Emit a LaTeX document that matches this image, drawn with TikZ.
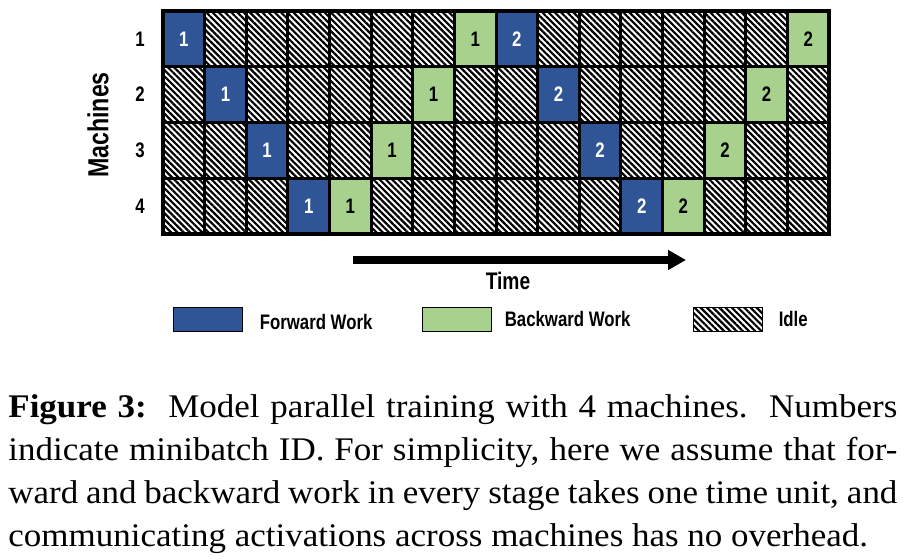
\documentclass[tikz,border=0pt]{standalone}
\usepackage{fontspec}
\setmainfont{Liberation Serif}
\newfontfamily\diagfont{Liberation Sans}[FakeStretch=0.8]
\newfontfamily\capfont{Liberation Serif}[FakeStretch=1.06]
\usepackage{tikz}
\usetikzlibrary{positioning,patterns.meta,arrows.meta}
\definecolor{fwdblue}{HTML}{2F5597}
\definecolor{bwdgreen}{HTML}{A9D18E}
\tikzset{forward style/.style={
		fill=fwdblue,
		text=white,
		rectangle,
		minimum width=20.8pt,
		minimum height=27.9pt,
		inner sep=0pt,
		font=\diagfont\bfseries\fontsize{10.5}{12}\selectfont,
	},
	backward style/.style={
		forward style,
		fill=bwdgreen,
		text=black,
	},
	idle style/.style={
		pattern={Lines[angle=-45,distance=2.2pt,line width=1.1pt]},
	},
	key style/.style={
		draw=black,
		thin,
		rectangle,
		minimum width=34.5pt,
		minimum height=12pt,
		inner sep=0pt,
	},
	label style/.style={
		text=black,
		inner sep=0pt,
		font=\diagfont\bfseries\fontsize{#1}{#1}\selectfont,
	}
}

\begin{document}
\begin{tikzpicture}[x=0.5pt,y=-0.5pt]
	\fill[white] (0,0) rectangle (907,559);

	\begin{scope}[shift={(163,11)},x=20.8125pt,y=-27.875pt]
		\fill[white] (0,0) rectangle (16,4);
		\fill[idle style] (0,0) rectangle (16,4);

		\node[forward style] (f11) at (0.5,0.5) {1};
		\node[backward style] (b11) at (7.5,0.5) {1};
		\node[forward style] (f12) at (8.5,0.5) {2};
		\node[backward style] (b12) at (15.5,0.5) {2};

		\node[forward style] (f21) at (1.5,1.5) {1};
		\node[backward style] (b21) at (6.5,1.5) {1};
		\node[forward style] (f22) at (9.5,1.5) {2};
		\node[backward style] (b22) at (14.5,1.5) {2};

		\node[forward style] (f31) at (2.5,2.5) {1};
		\node[backward style] (b31) at (5.5,2.5) {1};
		\node[forward style] (f32) at (10.5,2.5) {2};
		\node[backward style] (b32) at (13.5,2.5) {2};

		\node[forward style] (f41) at (3.5,3.5) {1};
		\node[backward style] (b41) at (4.5,3.5) {1};
		\node[forward style] (f42) at (11.5,3.5) {2};
		\node[backward style] (b42) at (12.5,3.5) {2};

		\draw[line width=1.5pt,xstep=20.8125pt,ystep=27.875pt] (0,0) grid (16,4);
		\draw[line width=1.6pt] (0,0) rectangle (16,4);

		\node[label style=10.5] (m1) at (-0.55,0.5) {1};
		\node[label style=10.5] (m2) at (-0.55,1.5) {2};
		\node[label style=10.5] (m3) at (-0.55,2.5) {3};
		\node[label style=10.5] (m4) at (-0.55,3.5) {4};
	\end{scope}

	\node[label style=14.5,rotate=90] (machines) at (98,125) {Machines};

	\coordinate (tstart) at (353,260);
	\coordinate (tend) at (686,260);
	\draw[line width=4pt,-{Triangle[length=9pt,width=9.5pt]}] (tstart) -- (tend);
	\node[label style=12] (time) at (508,281) {Time};

	\node[key style,fill=fwdblue] (fwdkey) at (207.5,319) {};
	\node[label style=10.5,right=8.5pt of fwdkey,yshift=-1.5pt] (fwdtext) {Forward Work};
	\node[key style,fill=bwdgreen] (bwdkey) at (456.5,319) {};
	\node[label style=10.5,right=6.5pt of bwdkey] (bwdtext) {Backward Work};
	\node[key style,fill=white,postaction={idle style}] (idlekey) at (727.5,319) {};
	\node[label style=10.5,right=8pt of idlekey] (idletext) {Idle};

	\node[anchor=north west,inner sep=0pt,text width=444.5pt,align=justify,
		font=\capfont\fontsize{16.5}{21.5}\selectfont] (caption) at (8,394.5)
		{\hyphenpenalty=10000\textbf{Figure 3:}\ \ Model parallel training with 4 machines.\ \ Numbers\linebreak
		indicate minibatch ID. For simplicity, here we assume that for-\linebreak
		ward and backward work in every stage takes one time unit, and\linebreak
		communicating activations across machines has no overhead.};
\end{tikzpicture}
\end{document}
